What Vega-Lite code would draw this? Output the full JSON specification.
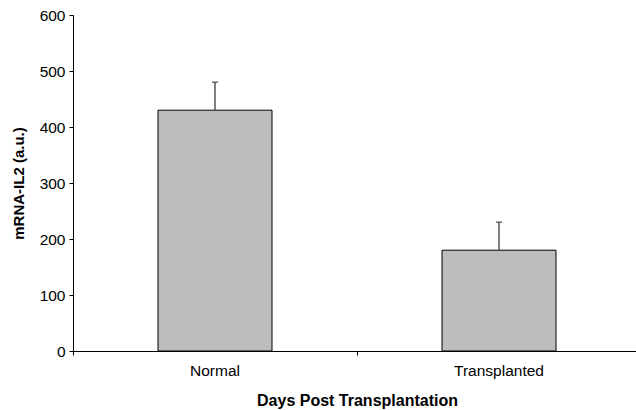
{
  "$schema": "https://vega.github.io/schema/vega-lite/v6.json",
  "autosize": "none",
  "padding": {"left": 73, "top": 15, "right": 0, "bottom": 59},
  "width": 568,
  "height": 336,
  "config": {
    "view": {"stroke": null},
    "font": "Liberation Sans",
    "axis": {"labelFont": "Liberation Sans", "titleFont": "Liberation Sans", "labelColor": "#000", "titleColor": "#000", "domainColor": "#000", "tickColor": "#000", "labelFontSize": 15.5, "titleFontSize": 16, "titleFontWeight": "bold", "grid": false, "labelFontWeight": "normal"}
  },
  "data": {"values": [
    {"group": "Normal", "value": 430, "upper": 480},
    {"group": "Transplanted", "value": 180, "upper": 230}
  ]},
  "encoding": {
    "x": {"field": "group", "type": "nominal", "sort": null,
      "scale": {"paddingInner": 0, "paddingOuter": 0},
      "axis": {"title": "Days Post Transplantation", "labelAngle": 0, "tickSize": 4, "bandPosition": 0, "labelPadding": 8, "titlePadding": 14}}
  },
  "layer": [
    {"mark": {"type": "bar", "width": 114, "fill": "#bdbdbd", "stroke": "#000", "strokeWidth": 1},
     "encoding": {"y": {"field": "value", "type": "quantitative",
       "scale": {"domain": [0, 600], "nice": false},
       "axis": {"title": "mRNA-IL2 (a.u.)", "titleFontSize": 15, "values": [0, 100, 200, 300, 400, 500, 600], "tickSize": 4, "labelPadding": 4, "titlePadding": 13}}}},
    {"mark": {"type": "rule", "color": "#555", "strokeWidth": 1.5},
     "encoding": {"y": {"field": "value", "type": "quantitative"}, "y2": {"field": "upper"}}},
    {"mark": {"type": "tick", "color": "#333", "size": 6, "thickness": 1.5},
     "encoding": {"y": {"field": "upper", "type": "quantitative"}}}
  ]
}
